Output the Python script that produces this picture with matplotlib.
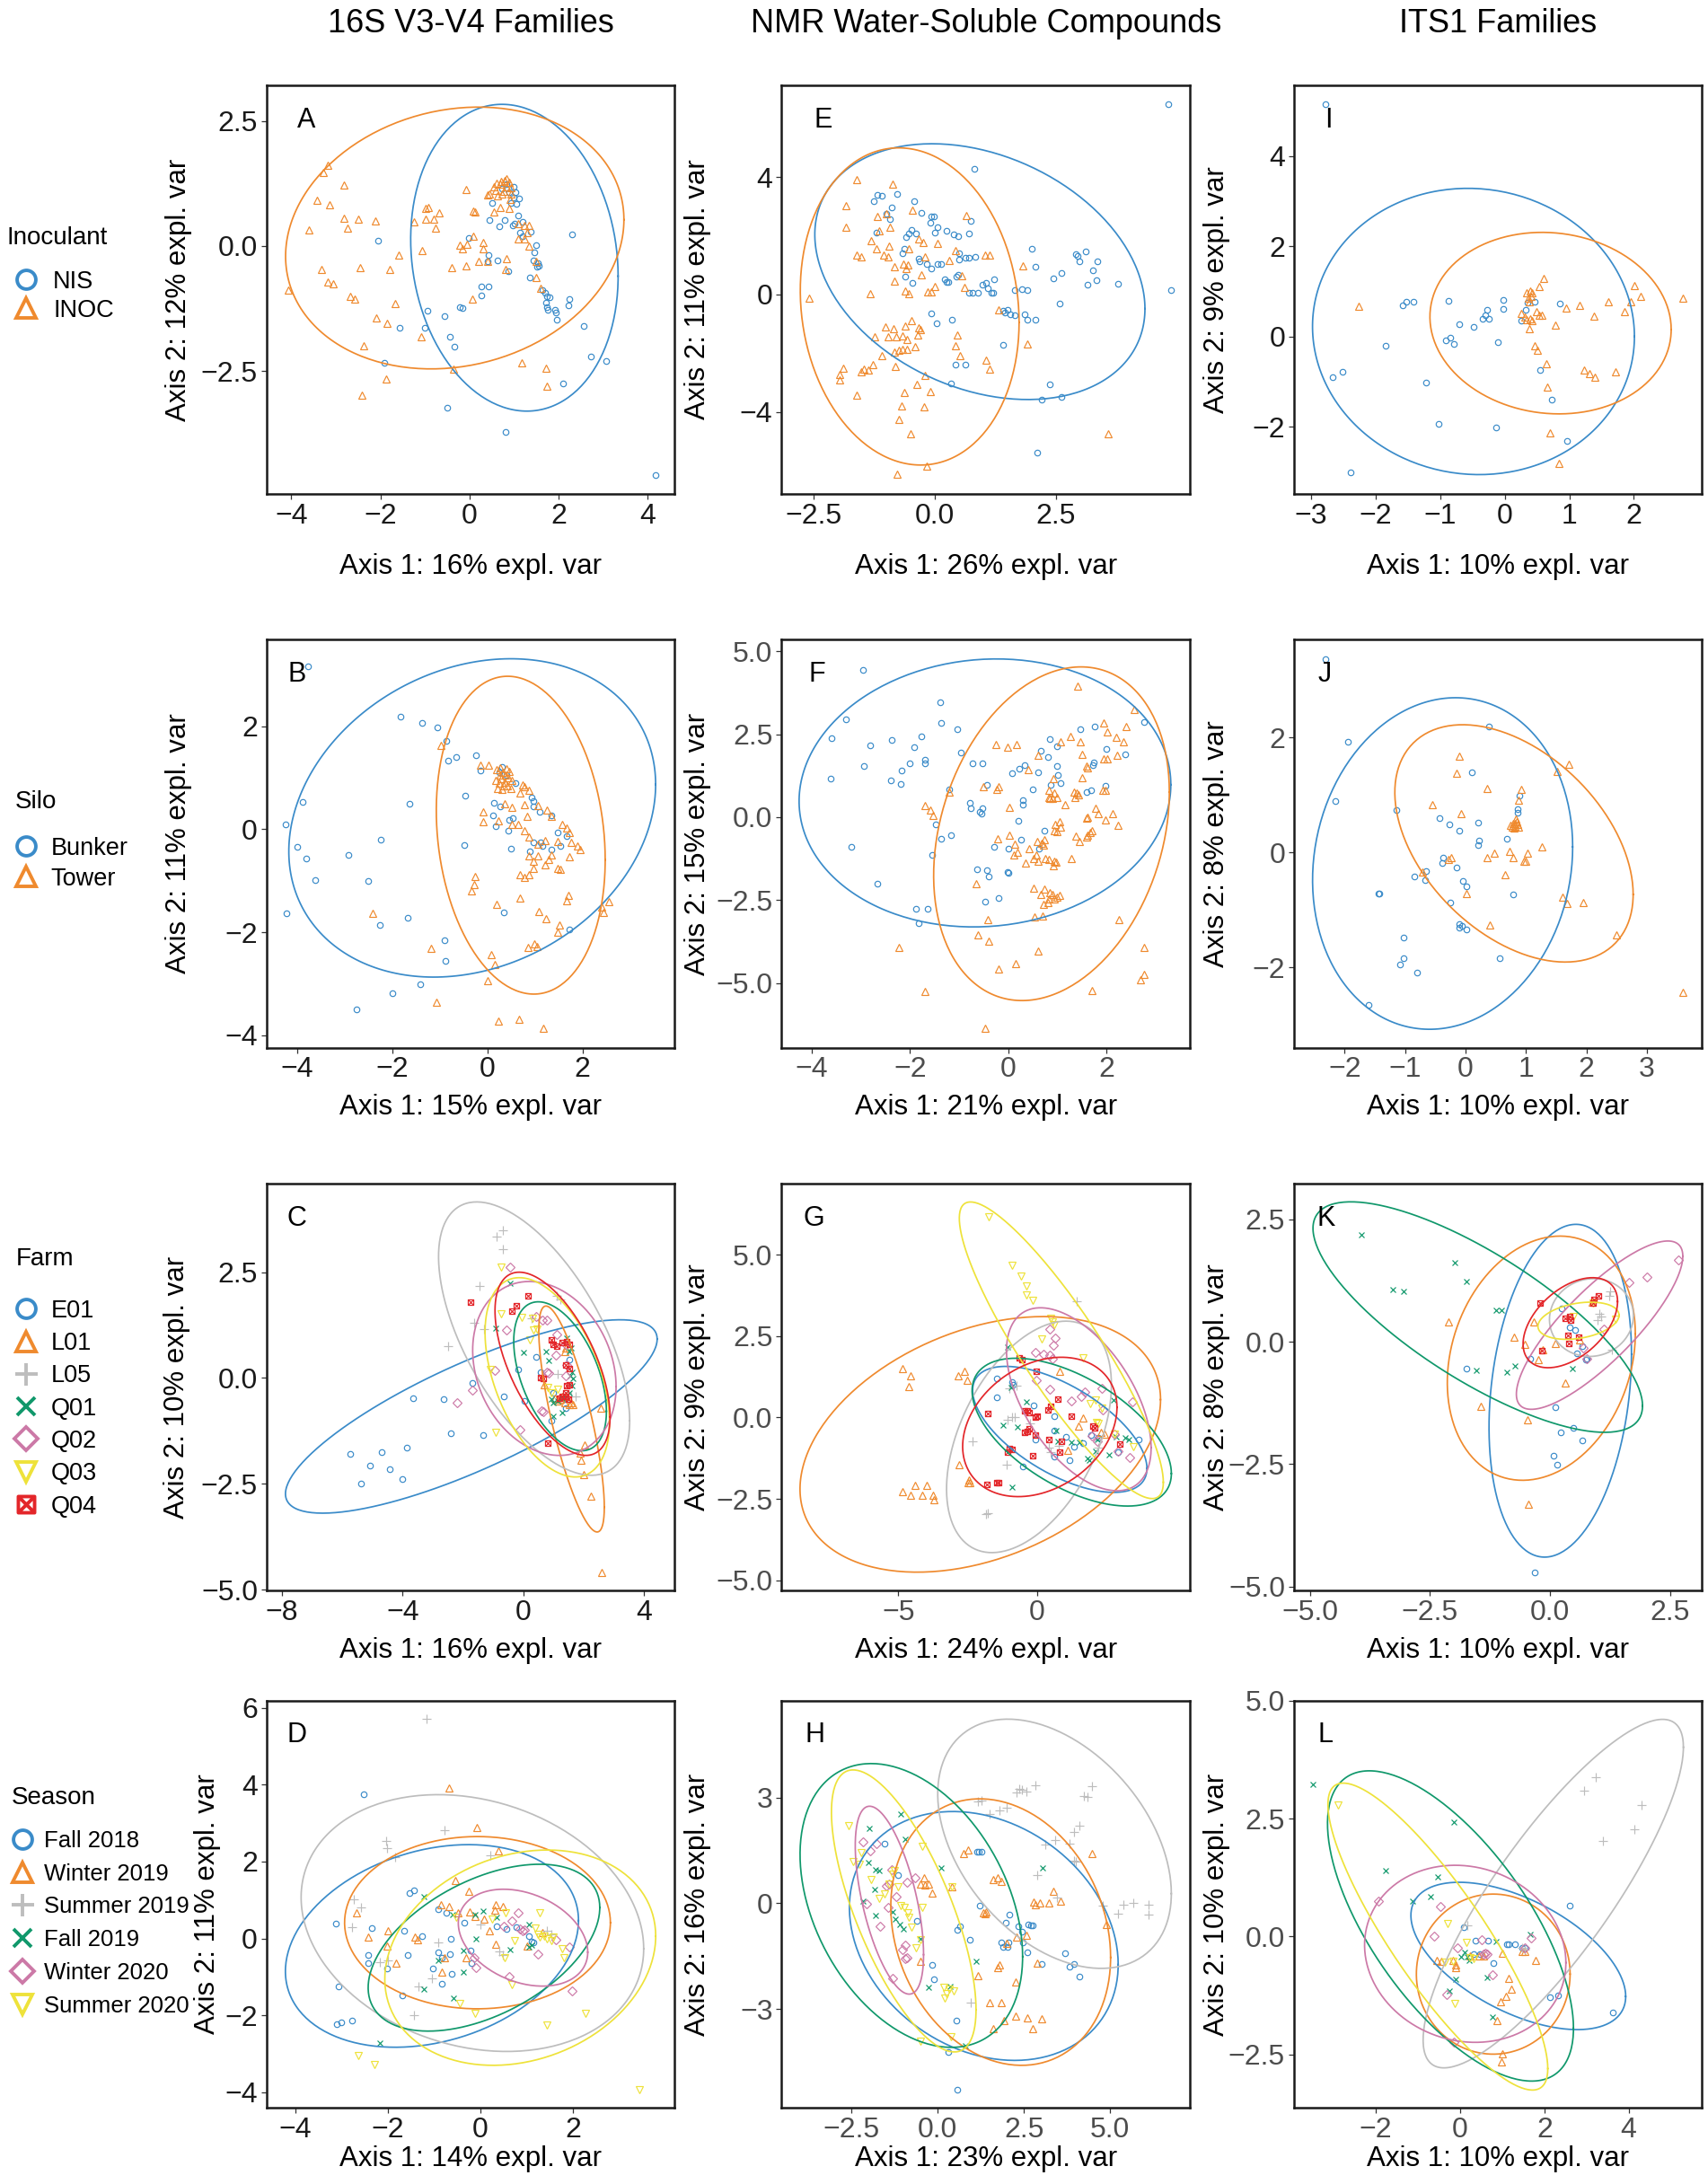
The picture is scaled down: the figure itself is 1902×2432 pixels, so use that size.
import numpy as np
import matplotlib
matplotlib.use('Agg')
import matplotlib.pyplot as plt
from matplotlib.path import Path
from matplotlib.lines import Line2D
from matplotlib.ticker import FuncFormatter, FixedLocator

plt.rcParams['font.family'] = ['Liberation Sans', 'DejaVu Sans']

# ---------------- labels ----------------
COL_TITLES = ['16S V3-V4 Families', 'NMR Water-Soluble Compounds', 'ITS1 Families']
PANEL_LETTERS = ['A', 'E', 'I', 'B', 'F', 'J', 'C', 'G', 'K', 'D', 'H', 'L']
AXIS1_PCT = [16, 26, 10, 15, 21, 10, 16, 24, 10, 14, 23, 10]
AXIS2_PCT = [12, 11, 9, 11, 15, 8, 10, 9, 8, 11, 16, 10]

INOC_GROUPS = ['NIS', 'INOC']
SILO_GROUPS = ['Bunker', 'Tower']
FARM_GROUPS = ['E01', 'L01', 'L05', 'Q01', 'Q02', 'Q03', 'Q04']
SEASON_GROUPS = ['Fall 2018', 'Winter 2019', 'Summer 2019', 'Fall 2019', 'Winter 2020', 'Summer 2020']

# ---------------- row 1 : Inoculant ----------------
A_NIS = [(-2.05,0.11),(-1.56,-1.64),(-1.91,-2.33),(-0.94,-1.29),(-1.01,-1.64),(-0.55,-1.41),(-0.43,-1.81),(-0.33,-2.01),(-0.50,-3.23),(-0.22,-1.22),(-0.15,-1.25),(-0.02,0.16),(0.27,-0.81),(0.42,-0.81),(0.27,-0.99),(0.42,-0.19),(0.40,-0.30),(0.64,-0.28),(0.87,-0.51),(0.45,0.52),(0.67,0.39),(0.79,0.52),(0.50,0.86),(0.94,0.86),(1.06,0.84),(1.12,0.95),(0.97,0.41),(1.02,0.45),(1.09,0.61),(1.19,0.49),(1.14,0.26),(1.37,0.28),(1.19,0.19),(1.49,0.01),(1.46,-0.13),(1.44,-0.28),(1.54,-0.34),(1.56,-0.39),(1.52,-0.41),(1.36,-0.63),(1.64,-0.88),(1.69,-0.93),(1.73,-1.01),(1.81,-1.02),(1.71,-1.13),(1.73,-1.23),(1.76,-1.27),(1.93,-1.27),(1.95,-1.33),(1.97,-1.47),(2.25,-1.07),(2.23,-1.19),(2.31,0.24),(2.56,-1.60),(2.73,-2.22),(3.07,-2.30),(2.11,-2.75),(0.81,-3.73),(4.18,-4.59),(0.84,1.23),(0.99,1.19),(1.04,1.08),(0.99,0.97),(0.89,1.08),(0.74,1.15)]
A_INOC = [(-3.19,1.62),(-3.29,1.48),(-2.82,1.22),(-3.42,0.92),(-3.14,0.83),(-2.82,0.56),(-2.50,0.54),(-2.73,0.35),(-2.12,0.50),(-3.61,0.32),(-1.24,0.49),(-0.99,0.75),(-0.92,0.77),(-0.99,0.54),(-0.81,0.54),(-0.69,0.66),(-0.77,0.35),(-1.59,-0.18),(-1.07,-0.10),(-3.33,-0.47),(-2.45,-0.43),(-1.80,-0.47),(-3.19,-0.72),(-3.06,-0.75),(-2.68,-1.01),(-2.58,-1.06),(-4.08,-0.88),(-1.67,-1.16),(-2.10,-1.44),(-1.85,-1.55),(-1.09,-1.81),(-2.38,-2.00),(-0.35,-2.46),(-1.88,-2.67),(-2.41,-2.99),(-0.07,1.13),(0.12,0.69),(0.09,0.70),(0.55,0.69),(0.08,0.20),(-0.22,0.02),(-0.15,-0.06),(-0.05,0.04),(0.30,0.07),(0.30,-0.05),(-0.40,-0.43),(-0.07,-0.40),(0.20,-0.31),(0.40,-0.31),(0.07,-1.07),(0.81,-0.47),(0.84,-0.26),(0.69,0.78),(0.89,0.75),(0.45,1.04),(0.59,1.12),(0.69,1.23),(0.79,1.31),(0.84,1.19),(0.89,1.27),(0.94,1.16),(0.74,1.04),(0.64,1.00),(0.40,1.02),(0.54,1.19),(0.84,1.34),(0.94,1.04),(0.92,0.93),(0.72,1.30),(0.62,1.25),(0.78,1.10),(1.09,0.45),(1.24,0.41),(1.34,0.41),(1.09,0.15),(1.24,0.15),(1.29,0.26),(1.34,0.00),(1.49,-0.30),(1.49,-0.63),(1.59,-0.84),(1.17,-2.33),(1.71,-2.44),(1.73,-2.81)]
A_ELL = [(1.01,-0.235,2.33,3.07,-0.12), (-0.33,0.16,3.80,2.62,0.14)]

E_NIS = [(4.83,6.48),(4.87,0.15),(0.82,4.28),(-1.19,3.39),(-1.10,3.35),(-1.26,3.17),(-0.78,3.42),(-0.89,2.97),(-1.00,2.76),(-0.92,2.56),(-0.42,3.17),(-0.27,2.79),(-0.07,2.67),(-0.02,2.67),(-0.09,2.45),(0.06,2.29),(0.00,2.10),(0.24,2.16),(0.38,2.03),(0.49,1.97),(0.75,2.50),(0.70,2.08),(-1.20,2.12),(-0.49,2.20),(-0.53,2.07),(-0.60,1.94),(-0.39,2.07),(-0.63,1.56),(-0.67,1.40),(-0.33,1.23),(-0.32,1.14),(-0.16,1.02),(-0.08,0.89),(0.05,1.02),(0.12,1.02),(-0.61,0.61),(-0.47,0.38),(0.21,0.51),(0.24,0.41),(0.27,0.41),(0.45,0.61),(0.49,0.66),(0.50,1.40),(0.70,1.24),(0.63,1.24),(0.84,1.27),(0.50,1.18),(0.70,0.06),(0.78,0.06),(0.89,0.06),(0.99,0.32),(1.05,0.38),(1.09,0.22),(1.16,0.06),(1.21,0.06),(1.23,0.51),(1.65,0.15),(1.79,0.18),(1.91,0.15),(2.00,1.55),(2.07,0.94),(2.45,0.56),(2.61,0.72),(2.91,1.36),(2.94,1.32),(3.12,1.45),(2.99,1.14),(3.35,1.14),(3.26,0.83),(3.33,0.47),(3.15,0.34),(3.79,0.36),(2.58,-0.32),(1.41,-0.55),(1.51,-0.51),(1.45,-0.61),(1.55,-0.67),(1.65,-0.70),(1.86,-0.67),(1.91,-0.86),(2.07,-0.86),(-0.08,-0.66),(0.03,-0.99),(0.36,-0.86),(1.41,-1.71),(0.42,-2.39),(0.63,-2.39),(0.34,-3.02),(2.37,-3.07),(2.21,-3.58),(2.61,-3.49),(2.11,-5.40)]
E_INOC = [(-2.60,-0.13),(-1.62,3.90),(-1.83,3.02),(-1.84,2.29),(-0.88,3.75),(-1.19,2.67),(-1.15,2.16),(-1.31,1.84),(-1.21,1.55),(-0.94,1.65),(-0.92,2.29),(-1.01,2.76),(-0.47,2.88),(-1.62,1.33),(-1.52,1.27),(-1.05,1.33),(-0.96,1.27),(-0.84,0.95),(-0.65,1.02),(-0.56,0.99),(-0.60,0.89),(-0.53,1.55),(-0.25,1.78),(-0.20,1.27),(-0.27,0.66),(-0.33,1.90),(0.06,1.74),(-0.84,0.44),(-1.33,0.03),(-0.61,0.13),(-0.53,0.03),(-0.14,0.09),(-0.07,0.09),(-0.01,0.28),(0.29,1.17),(0.42,1.50),(0.56,0.63),(0.61,0.23),(0.64,2.69),(1.03,1.33),(1.13,1.33),(1.81,0.98),(1.32,-0.53),(-1.03,-1.12),(-0.86,-1.18),(-1.24,-1.43),(-0.96,-1.43),(-0.80,-1.43),(-0.61,-1.08),(-0.49,-0.89),(-0.67,-1.40),(-0.58,-1.52),(-0.33,-1.14),(-0.30,-1.21),(-0.35,-1.37),(-0.40,-1.78),(-0.58,-1.88),(-0.75,-1.90),(-0.66,-1.88),(-0.84,-1.97),(-1.10,-2.07),(-0.82,-2.45),(-1.28,-2.39),(-1.37,-2.57),(-1.46,-2.54),(-1.52,-2.63),(-1.90,-2.51),(-1.96,-2.73),(-1.96,-2.92),(-1.62,-3.43),(0.47,-1.37),(0.43,-1.75),(0.52,-2.07),(1.06,-2.25),(1.13,-2.54),(1.91,-1.69),(-0.20,-2.77),(-0.37,-3.07),(-0.09,-3.30),(-0.63,-3.33),(-0.68,-3.81),(-0.22,-3.83),(-0.74,-4.25),(-0.51,-4.76),(-0.17,-5.84),(-0.78,-6.12),(3.58,-4.74)]
E_ELL = [(0.93,0.775,3.41,4.355,-0.29), (-0.52,-0.41,2.26,5.40,-0.10)]

I_NIS = [(-2.78,5.14),(-2.67,-0.90),(-2.51,-0.78),(-2.39,-3.01),(-1.85,-0.21),(-1.58,0.69),(-1.52,0.78),(-1.41,0.78),(-1.22,-1.02),(-1.02,-1.94),(-0.87,0.79),(-0.92,-0.08),(-0.85,-0.02),(-0.79,-0.16),(-0.71,0.28),(-0.48,0.22),(-0.34,0.39),(-0.30,0.47),(-0.27,0.60),(-0.24,0.39),(-0.11,-0.12),(-0.13,-2.01),(-0.03,0.82),(-0.03,0.62),(0.26,0.36),(0.33,0.59),(0.35,0.75),(0.46,0.78),(0.55,-0.73),(0.73,-1.40),(0.86,0.73),(0.97,-2.30)]
I_INOC = [(-2.26,0.67),(0.60,1.30),(0.54,1.11),(0.34,0.97),(0.39,1.01),(0.42,0.97),(0.37,0.85),(0.41,0.89),(0.38,0.77),(0.49,0.56),(0.54,0.48),(0.57,0.48),(0.26,0.52),(0.31,0.44),(0.34,0.37),(0.39,0.39),(0.42,0.36),(0.38,0.17),(0.46,-0.21),(0.50,-0.31),(0.64,-0.59),(0.66,-1.11),(0.79,0.26),(0.95,0.64),(1.16,0.70),(1.38,0.45),(1.60,0.78),(1.86,0.56),(1.95,0.77),(2.01,1.14),(2.10,0.89),(2.76,0.85),(1.23,-0.73),(1.31,-0.82),(1.39,-0.90),(1.72,-0.78),(0.70,-2.14),(0.84,-2.81)]
I_ELL = [(-0.485,0.115,2.495,3.17,-0.035), (0.71,0.30,1.87,2.01,-0.07)]

# ---------------- row 2 : Silo ----------------
B_BUNKER = [(-3.76,3.16),(-1.83,2.19),(-1.37,2.07),(-1.05,1.97),(-0.86,1.72),(-0.83,1.34),(-0.65,1.40),(-0.23,1.44),(-0.14,1.14),(-0.46,0.65),(-1.64,0.49),(-3.88,0.53),(-4.24,0.10),(-3.99,-0.34),(-3.80,-0.56),(-3.62,-0.98),(-2.92,-0.50),(-2.24,-0.20),(-2.50,-1.00),(-4.21,-1.63),(-2.26,-1.86),(-1.67,-1.72),(-0.90,-2.16),(-0.88,-2.55),(-1.41,-3.00),(-2.00,-3.19),(-2.74,-3.50),(-0.49,-0.31),(0.12,0.27),(0.17,0.06),(0.14,0.51),(0.28,0.45),(0.44,-0.02),(0.46,0.19),(0.53,0.22),(0.49,-0.37),(0.35,-1.62),(0.93,0.62),(0.97,0.54),(0.97,0.45),(1.11,0.33),(1.35,0.27),(0.97,-0.25),(0.90,-0.43),(1.13,-0.26),(1.16,-0.32),(1.35,-0.40),(1.48,-0.07),(1.53,-0.33),(1.67,-0.13),(1.72,-1.94),(0.60,0.90),(0.32,1.21),(0.25,1.10),(0.40,1.05)]
B_TOWER = [(-0.97,1.63),(-0.14,1.25),(0.03,1.25),(0.20,1.15),(0.28,1.20),(0.33,1.10),(0.38,1.05),(0.30,0.98),(0.25,0.90),(0.36,0.92),(0.45,1.00),(0.42,0.85),(0.50,0.80),(0.22,0.80),(0.32,0.78),(0.40,1.18),(0.46,1.12),(0.28,1.05),(0.52,0.95),(0.35,0.85),(0.18,0.95),(0.74,0.86),(0.79,0.83),(0.88,0.76),(0.69,0.70),(0.37,0.50),(0.51,0.43),(0.79,0.48),(1.07,0.46),(1.25,0.37),(1.34,0.25),(-0.09,0.33),(-0.09,0.14),(0.23,0.17),(0.51,0.09),(0.65,0.09),(0.83,0.26),(0.79,-0.03),(0.88,-0.15),(1.07,-0.29),(1.21,-0.22),(1.35,-0.49),(1.48,-0.23),(1.58,0.09),(1.67,0.02),(1.73,-0.06),(1.76,-0.25),(1.90,-0.32),(1.95,-0.40),(0.88,-0.52),(0.97,-0.62),(1.07,-0.52),(0.97,-0.76),(1.21,-0.69),(1.30,-0.59),(1.48,-0.76),(1.53,-0.78),(1.72,-0.54),(0.69,-0.88),(0.79,-0.94),(0.88,-0.88),(-0.25,-0.91),(-0.28,-1.07),(-0.34,-1.20),(0.19,-1.45),(0.68,-1.34),(1.09,-1.59),(1.24,-1.73),(1.51,-1.86),(1.48,-1.99),(1.70,-1.29),(1.67,-1.39),(2.41,-1.51),(2.44,-1.62),(2.55,-1.40),(0.86,-2.30),(0.99,-2.23),(1.05,-2.28),(0.09,-2.44),(0.16,-2.62),(0.00,-2.94),(-1.18,-2.32),(-2.41,-1.64),(-1.07,-3.35),(0.23,-3.72),(0.67,-3.68),(1.18,-3.86)]
B_ELL = [(-0.315,0.22,3.855,3.09,0.21), (0.705,-0.115,1.775,3.085,-0.155)]

F_BUNKER = [(-2.95,4.43),(-3.30,2.96),(-3.59,2.38),(-3.61,1.16),(-2.81,2.16),(-2.94,1.54),(-3.19,-0.89),(-2.67,-2.00),(-2.37,2.32),(-2.40,1.12),(-2.19,1.01),(-2.17,1.40),(-2.01,1.63),(-1.91,2.11),(-1.77,2.43),(-1.69,1.74),(-1.69,1.61),(-1.39,3.47),(-1.36,2.84),(-1.04,2.64),(-0.97,1.95),(-1.20,0.84),(-0.72,1.61),(-0.52,1.61),(-0.79,0.42),(-0.76,0.27),(-0.53,0.26),(-0.59,0.16),(-0.55,0.11),(-0.44,0.98),(-1.48,-0.23),(-1.17,-0.53),(-1.37,-0.65),(-1.55,-1.13),(-0.63,-1.58),(-0.43,-1.60),(-0.39,-1.78),(-0.48,-2.55),(-0.19,-2.44),(-0.02,-1.65),(0.00,-1.68),(-0.28,-0.89),(0.00,-0.94),(-1.88,-2.76),(-1.64,-2.76),(-1.83,-3.21),(0.07,1.32),(0.22,1.45),(0.33,1.56),(0.21,-0.11),(0.26,-0.68),(0.30,0.51),(0.30,0.38),(0.50,0.84),(0.61,1.35),(0.66,2.00),(0.81,1.81),(0.85,2.35),(0.99,1.53),(1.01,1.26),(1.06,1.03),(1.00,2.13),(0.86,0.96),(0.74,-0.40),(0.62,-0.94),(1.46,2.65),(1.76,2.73),(1.74,1.64),(1.72,1.58),(1.59,0.75),(1.69,0.82),(1.98,0.95),(2.00,2.05),(2.39,1.89),(2.76,2.87)]
F_TOWER = [(1.41,3.96),(2.57,3.25),(1.95,2.84),(2.01,2.56),(2.19,2.41),(2.40,2.73),(2.34,2.26),(2.21,1.86),(2.01,1.75),(1.95,1.75),(1.47,2.27),(1.50,1.89),(1.26,2.43),(1.07,2.27),(1.59,1.53),(1.62,1.50),(1.50,1.19),(0.91,1.17),(0.40,1.44),(0.60,1.86),(-0.26,2.19),(-0.01,2.12),(0.17,2.19),(-0.50,0.93),(-0.19,0.93),(-0.24,0.84),(0.02,0.29),(-1.21,0.75),(-1.70,0.35),(-1.59,0.22),(-1.54,0.06),(0.83,0.59),(0.85,0.57),(0.90,0.58),(0.93,0.72),(0.83,0.82),(1.00,0.59),(1.15,0.38),(1.34,0.75),(1.40,0.72),(1.43,0.68),(1.35,0.59),(1.77,0.27),(1.84,0.12),(1.62,0.01),(1.59,-0.04),(1.93,0.82),(1.98,0.82),(1.98,-0.07),(2.12,0.12),(2.24,-0.25),(0.95,-0.21),(1.05,-0.13),(0.99,-0.44),(0.93,-0.40),(1.07,-0.31),(1.37,-0.58),(1.45,-0.73),(1.62,-0.55),(1.66,-0.47),(1.70,-0.42),(1.60,-0.60),(-0.21,-0.65),(0.03,-0.53),(0.14,-0.81),(0.12,-1.15),(0.19,-1.05),(0.43,-0.94),(0.35,-1.37),(0.57,-1.13),(0.52,-1.25),(0.60,-1.32),(0.59,-0.74),(0.68,-0.78),(0.74,-0.67),(0.72,-0.84),(0.76,-1.26),(0.83,-1.28),(0.93,-1.32),(0.97,-1.36),(0.92,-1.47),(1.28,-1.26),(-0.66,-2.00),(0.52,-2.13),(0.67,-2.32),(0.74,-2.18),(0.84,-2.28),(0.90,-2.34),(1.00,-2.41),(0.71,-2.63),(0.81,-2.58),(0.93,-2.47),(1.04,-2.37),(0.83,-2.47),(0.54,-3.02),(0.69,-2.97),(-0.41,-3.09),(-0.61,-3.55),(-0.39,-3.74),(-2.23,-3.92),(0.61,-4.04),(2.26,-3.09),(2.77,-3.92),(2.77,-4.74),(2.69,-4.89),(-0.20,-4.58),(0.15,-4.42),(-1.69,-5.25),(1.71,-5.23),(-0.48,-6.37)]
F_ELL = [(-0.475,0.73,3.785,4.04,0.062), (0.88,-0.50,2.40,5.03,0.25)]

J_BUNKER = [(-2.31,3.36),(-1.94,1.93),(-2.16,0.89),(-1.14,0.73),(-0.43,0.60),(-0.27,0.49),(-0.10,0.38),(0.11,1.39),(0.38,2.19),(0.21,0.51),(0.22,0.21),(0.21,0.12),(0.68,0.24),(0.86,0.75),(0.86,0.69),(0.89,0.99),(-0.37,-0.09),(-0.39,-0.18),(-0.15,-0.27),(-0.85,-0.42),(-0.65,-0.33),(-0.67,-0.48),(-1.44,-0.72),(-1.42,-0.72),(-0.05,-0.50),(0.01,-0.60),(-0.25,-0.88),(-0.10,-1.25),(-0.10,-1.31),(-0.06,-1.28),(0.01,-1.35),(0.79,-0.74),(-1.02,-1.48),(-1.03,-1.84),(-1.08,-1.96),(-0.81,-2.09),(0.57,-1.84),(-1.61,-2.66)]
J_TOWER = [(-0.10,1.67),(-0.15,1.38),(-0.55,0.83),(-0.07,0.67),(0.36,1.11),(0.92,1.10),(0.88,0.90),(0.74,0.47),(0.78,0.50),(0.81,0.45),(0.84,0.53),(0.86,0.48),(0.80,0.42),(0.83,0.58),(0.77,0.44),(0.88,0.44),(0.82,0.50),(1.51,1.40),(1.70,1.53),(1.26,0.09),(0.72,0.02),(0.47,-0.01),(0.35,-0.09),(0.78,-0.09),(1.03,-0.02),(0.97,-0.16),(0.99,-0.16),(-0.24,-0.09),(-0.29,-0.12),(0.65,-0.39),(-0.72,-0.35),(0.01,-0.71),(1.60,-0.78),(1.67,-0.89),(1.95,-0.88),(2.50,-1.43),(0.40,-1.27),(3.59,-2.43)]
J_ELL = [(-0.38,-0.195,2.15,2.885,0.10), (0.80,0.155,1.97,2.065,-0.43)]

# ---------------- row 3 : Farm ----------------
C_E01 = [(-5.73,-1.80),(-5.37,-2.49),(-5.09,-2.06),(-4.69,-1.75),(-4.42,-2.16),(-4.01,-2.39),(-3.87,-1.65),(-3.65,-0.48),(-2.63,-0.50),(-2.40,-1.30),(-1.68,-0.11),(-1.33,-1.34),(-0.64,-0.44),(-0.18,0.20),(0.04,-0.54),(0.41,0.50),(0.57,0.14),(0.99,-0.35),(0.92,-1.00),(1.51,0.44),(1.40,-0.72),(1.36,-0.51)]
C_L01 = [(2.60,-4.60),(2.24,-2.79),(1.99,-2.28),(1.90,-1.95),(1.87,-1.77),(2.02,-1.59),(2.57,-0.72),(0.70,-0.15),(1.36,0.63),(1.40,0.71),(1.04,-0.47),(1.14,-0.55),(1.21,-0.50),(1.36,-0.59),(1.51,-0.63),(1.58,-0.59),(1.43,-0.43),(1.29,-0.43),(1.65,-0.63)]
C_L05 = [(-0.69,3.50),(-0.88,3.34),(-0.67,3.05),(-1.46,2.17),(-1.62,1.31),(-1.30,1.15),(-2.49,0.76),(1.10,1.93),(1.21,1.85),(1.14,0.10),(1.73,-0.43),(1.58,-0.43),(0.26,1.40)]
C_Q01 = [(-0.44,2.23),(-0.91,1.17),(0.00,0.60),(0.75,0.63),(0.85,0.42),(0.92,-0.50),(0.99,-0.59),(1.14,-0.54),(1.29,-0.47),(1.40,-0.43),(1.51,-0.35),(1.61,-0.19),(1.65,-0.02),(1.54,0.06),(1.62,0.14),(0.99,-0.90),(1.29,-0.82),(1.43,0.95),(1.51,0.63),(1.58,0.71)]
C_Q02 = [(-0.44,2.63),(-2.21,-0.58),(-1.68,-0.28),(-0.95,0.18),(-0.57,1.13),(-0.10,-1.23),(0.41,1.45),(0.63,1.37),(0.77,1.37),(0.60,-0.77),(0.66,-0.80),(1.07,0.54),(0.77,0.14),(0.85,0.12),(1.40,0.06),(1.43,0.30),(1.40,0.79),(1.10,1.03)]
C_Q03 = [(-0.73,2.62),(-0.73,1.52),(-0.06,1.44),(0.34,1.13),(0.29,1.40),(0.22,0.89),(0.45,1.15),(-1.10,0.20),(-0.92,-1.28),(0.80,-0.23),(0.92,-0.35),(1.14,-0.27)]
C_Q04 = [(-1.74,1.80),(-0.39,1.58),(-0.22,1.70),(0.16,1.93),(0.80,-1.55),(0.56,0.00),(0.66,-0.02),(0.92,0.89),(0.99,0.79),(1.10,0.75),(1.29,0.83),(1.43,0.85),(1.51,0.80),(1.40,0.30),(1.51,0.22),(1.43,-0.19),(1.40,-0.35),(1.51,-0.15),(1.39,-0.43),(1.48,-0.51),(1.29,-0.43),(1.19,-0.47)]
C_ELL = [(-1.725,-0.91,6.155,2.285,0.80),(1.595,-0.97,1.085,2.67,-0.78),(0.355,0.93,3.165,3.23,-0.60),(1.215,0.04,1.535,1.76,-0.47),(0.695,0.225,2.375,2.055,-0.21),(0.79,0.015,2.06,2.355,-0.45),(0.965,0.335,1.905,2.165,-0.58)]

G_E01 = [(-1.46,1.21),(-1.44,0.62),(-0.91,1.08),(-0.88,1.00),(-0.12,0.37),(-0.06,-0.67),(-0.51,-1.51),(0.61,-1.19),(1.18,-1.30),(0.61,-0.40),(1.04,-0.59),(1.34,-0.91),(1.65,-0.80),(1.95,-0.53),(2.20,-0.61),(2.93,-1.06),(3.66,-0.69),(0.63,0.05)]
G_L01 = [(-4.85,1.50),(-4.57,1.29),(-4.61,0.95),(-2.85,1.27),(-2.62,1.43),(-2.52,1.13),(-2.80,-1.46),(-2.44,-1.91),(-2.50,-1.99),(-2.41,-2.01),(-4.84,-2.28),(-4.55,-2.39),(-4.39,-2.07),(-4.12,-2.39),(-3.96,-2.09),(-3.74,-2.39),(-3.72,-2.52),(0.82,1.43),(1.65,-0.01),(1.50,-0.27),(2.30,-0.45),(2.44,-0.51),(1.10,-1.01)]
G_L05 = [(1.44,3.58),(-2.32,-0.72),(-1.83,-2.97),(-1.77,-2.94),(-1.10,-1.44),(-1.06,-0.08),(-0.79,0.00),(-0.91,0.02),(-0.73,0.99),(-1.00,0.89),(0.43,-0.93),(0.49,-1.07),(0.79,-0.88),(2.20,-0.93),(-0.24,-0.19)]
G_Q01 = [(-1.07,2.16),(-0.94,0.92),(-0.37,0.48),(-1.22,-0.24),(-0.71,-0.30),(-0.91,-2.14),(0.67,-0.40),(0.76,-0.72),(1.22,-0.77),(1.52,-0.77),(1.83,-1.25),(1.89,-1.30),(2.10,-1.04),(2.17,-0.67),(2.60,-1.14),(2.84,-0.59),(3.17,-0.61),(3.29,-0.69),(2.74,0.55)]
G_Q02 = [(0.46,2.71),(0.65,2.45),(0.59,2.22),(-0.06,2.00),(0.22,1.94),(0.46,1.92),(0.55,1.81),(-0.02,1.15),(0.45,0.87),(1.22,0.50),(1.59,0.66),(1.71,0.78),(2.32,0.90),(2.36,0.23),(1.98,-0.56),(2.17,-0.72),(2.80,-0.51),(2.93,-1.04),(3.35,-1.23),(3.44,0.49)]
G_Q03 = [(-1.73,6.15),(-0.91,4.67),(-0.59,4.35),(-0.37,4.03),(-0.37,3.77),(-0.16,3.61),(0.49,3.04),(0.55,2.94),(0.61,2.85),(0.16,2.42),(1.67,1.82),(1.91,0.44),(2.10,0.55),(2.32,0.29),(2.80,-0.51),(3.48,-0.91),(2.13,-0.14),(2.22,-0.17)]
G_Q04 = [(-1.77,0.11),(-1.79,-2.06),(-1.45,-1.99),(-1.37,-1.99),(-1.00,-0.95),(-0.91,-0.98),(-1.06,-1.07),(-0.63,1.82),(-0.55,1.79),(-0.02,1.41),(-0.46,0.21),(-0.34,0.21),(-0.27,0.15),(-0.06,0.02),(0.00,0.04),(-0.45,-0.46),(-0.34,-0.42),(-0.28,-0.35),(-0.06,-0.53),(-0.15,-1.16),(0.40,0.23),(0.49,0.34),(0.76,0.57),(1.22,0.04),(0.43,-0.67),(0.83,-1.06),(0.88,-0.74),(2.01,-0.26),(2.07,-0.32),(2.99,-0.82)]
G_ELL = [(0.82,-0.365,3.14,1.935,-0.62),(-2.045,-0.825,6.495,3.925,0.35),(-0.29,-0.595,2.97,3.555,0.45),(1.25,-0.45,3.59,2.27,-0.56),(1.505,0.56,2.605,2.81,-0.53),(0.875,2.065,3.675,4.555,-0.89),(0.10,-0.29,2.78,2.14,0.28)]

K_E01 = [(-1.74,-0.55),(-0.42,-0.35),(0.24,0.68),(0.42,0.30),(0.52,0.24),(0.56,-0.23),(0.68,-0.09),(0.74,-0.36),(0.76,-0.34),(0.11,-1.33),(0.22,-1.85),(0.49,-1.76),(0.67,-2.02),(0.07,-2.32),(0.15,-2.51),(-0.32,-4.71)]
K_L01 = [(-2.11,0.40),(-0.74,0.10),(-0.52,-0.06),(-0.34,0.41),(-0.25,-0.36),(-0.15,-0.16),(0.12,-0.04),(-1.45,-1.31),(-0.47,-1.60),(0.32,-0.84),(-0.44,-3.31),(0.61,0.04),(0.88,0.81)]
K_L05 = [(1.26,1.03),(1.23,0.93),(1.03,0.58),(0.99,0.44),(1.06,0.51),(1.29,-0.16)]
K_Q01 = [(-3.93,2.19),(-3.27,1.07),(-3.06,1.03),(-1.98,1.61),(-1.74,1.24),(-1.12,0.65),(-1.02,0.65),(-1.54,-0.58),(-0.90,-0.63),(-0.73,-0.49),(0.46,-0.55)]
K_Q02 = [(2.67,1.68),(2.02,1.33),(1.64,1.21),(1.13,0.26),(0.69,-0.13),(0.76,-0.35)]
K_Q03 = [(0.49,0.51),(1.36,0.47),(0.89,0.80)]
K_Q04 = [(-0.21,0.79),(-0.16,-0.18),(0.32,0.48),(0.42,0.51),(0.44,0.44),(0.38,0.13),(0.40,-0.03),(0.59,0.10),(0.92,0.86),(1.01,0.93),(0.89,0.79)]
K_ELL = [(0.215,-1.0,1.485,3.40,0.22),(-0.18,-0.335,1.96,2.495,0.20),(0.865,0.495,0.875,0.795,0.05),(-1.505,0.505,3.435,2.355,-0.77),(1.035,0.34,1.735,1.72,0.82),(0.595,0.43,0.845,0.38,0.30),(0.425,0.39,0.985,0.92,0.47)]

# ---------------- row 4 : Season ----------------
D_F18 = [(-2.53,3.75),(-3.12,0.39),(-2.36,0.26),(-2.43,-0.42),(-2.43,-0.63),(-2.02,-0.77),(-3.08,-1.25),(-3.10,-2.22),(-3.01,-2.19),(-2.77,-2.13),(-1.70,-1.49),(-1.57,-0.42),(-1.65,0.20),(-1.53,1.18),(-1.43,1.24),(-1.27,0.05),(-0.91,0.75),(-0.73,0.67),(-0.91,-0.36),(-0.83,-0.49),(-0.67,-0.40),(-0.65,-0.02),(-1.03,-0.79),(-0.84,-1.17),(-0.62,-0.93),(-0.35,0.41),(-0.21,-0.32),(-0.19,-0.64),(0.35,0.32),(0.57,0.24),(0.78,0.30),(1.05,0.07),(1.10,-0.08),(1.15,-0.10)]
D_W19 = [(-0.69,3.91),(-0.07,2.88),(0.38,2.27),(-0.54,1.50),(-0.26,1.22),(-2.69,0.67),(-2.43,0.03),(-2.00,0.20),(-2.02,-0.19),(-1.83,-0.64),(-1.41,0.04),(-1.37,-0.03),(-0.86,0.88),(-0.69,0.82),(-0.48,0.67),(-0.83,-0.87),(-0.78,-0.49),(-0.31,-0.49),(-0.24,0.69),(-0.11,0.58),(0.08,0.50),(0.19,0.20),(0.31,0.73),(0.33,0.88),(0.48,0.84),(0.33,-0.15),(1.00,-0.19),(1.34,0.15)]
D_S19 = [(-1.17,5.72),(-0.78,2.82),(-2.05,2.54),(-2.02,2.35),(-1.84,2.12),(0.21,2.16),(-2.74,1.01),(-2.58,0.81),(-2.77,0.30),(-2.18,-0.61),(-2.00,-0.57),(-1.35,-1.25),(-1.43,-2.00),(-1.05,-1.04),(-0.91,-0.10),(0.00,0.37),(0.41,-0.33),(0.48,-0.44),(1.43,0.20),(1.53,0.11)]
D_F19 = [(-1.22,1.09),(-0.60,0.61),(-0.12,0.61),(0.05,0.71),(0.35,0.56),(-0.10,-0.02),(-0.38,-0.32),(-0.38,-0.87),(-0.91,-0.57),(-1.22,-1.31),(-0.59,-1.55),(-2.17,-2.73),(0.64,-0.30),(1.05,0.37),(1.05,-0.21),(1.10,-0.17)]
D_W20 = [(-0.14,-0.49),(-0.10,-0.76),(0.51,0.32),(0.67,0.45),(0.81,0.67),(0.86,0.24),(0.91,0.20),(0.95,0.22),(1.24,-0.40),(0.62,-0.98),(1.64,-0.04),(1.93,-0.23),(1.98,-1.36)]
D_S20 = [(-2.65,-3.05),(-2.29,-3.29),(-0.45,-1.70),(-0.12,-1.95),(0.67,-1.19),(1.43,-2.25),(2.27,-1.94),(3.44,-3.94),(0.55,0.67),(1.29,0.67),(0.74,-0.06),(0.52,-0.51),(1.19,0.28),(1.24,0.11),(1.29,0.03),(1.38,0.07),(1.43,-0.02),(1.53,-0.06),(1.57,0.03),(1.76,-0.27),(1.81,-0.49),(-0.52,0.54),(0.26,0.50)]
D_ELL = [(-1.05,-0.195,3.17,2.635,0.25),(-0.065,0.41,2.875,2.24,0.0),(-0.175,0.40,3.705,3.34,-0.20),(0.075,-0.24,2.505,2.17,0.48),(0.92,0.02,1.40,1.26,-0.30),(0.86,-0.50,2.93,2.80,0.20)]

H_F18 = [(-1.55,1.68),(-1.15,0.80),(-0.61,-0.50),(-0.17,-1.74),(-0.10,-2.16),(0.54,-3.32),(0.30,-4.22),(0.57,-5.29),(0.57,-0.76),(0.64,-0.65),(0.93,-1.04),(1.14,1.45),(1.20,1.47),(1.26,1.45),(1.21,-0.07),(1.83,-1.11),(1.89,-1.24),(2.02,-1.24),(2.04,-1.11),(1.96,-0.56),(2.07,-0.33),(2.34,-0.65),(2.43,-0.81),(2.46,-1.12),(2.60,-1.39),(2.63,-0.60),(2.70,-0.63),(2.75,-0.62),(3.02,-1.72),(3.68,-1.43),(3.81,-1.79),(3.94,-1.72),(4.10,-2.08)]
H_W19 = [(0.75,1.40),(0.89,1.52),(-0.39,0.73),(-0.51,0.54),(-0.38,0.52),(-0.26,0.54),(-0.17,0.28),(0.40,0.47),(1.33,-0.28),(1.37,-0.30),(1.40,-0.25),(1.62,0.66),(1.75,0.73),(1.84,0.63),(2.78,0.03),(2.83,-0.04),(2.96,0.00),(3.22,0.00),(3.36,0.33),(3.56,0.07),(4.47,1.40),(4.89,-0.60),(2.29,-0.97),(2.58,-0.90),(1.99,-1.13),(-0.51,-1.65),(1.16,-2.05),(1.80,-1.74),(1.73,-1.83),(2.26,-2.23),(1.50,-2.81),(1.84,-2.83),(1.60,-3.57),(1.91,-3.32),(2.27,-3.21),(2.60,-3.26),(3.00,-3.28),(2.75,-3.55),(2.88,-1.69)]
H_S19 = [(2.29,3.14),(2.37,3.25),(2.44,3.21),(2.56,3.16),(2.83,3.34),(4.47,3.31),(4.23,3.05),(4.35,3.02),(1.16,2.88),(1.26,2.92),(1.50,2.52),(1.80,2.64),(1.99,2.70),(3.12,1.66),(3.41,1.80),(3.81,1.70),(3.96,2.03),(4.10,2.21),(3.95,1.21),(4.00,1.19),(2.88,0.80),(3.46,0.17),(4.79,-0.07),(5.23,-0.30),(5.38,-0.04),(5.67,0.00),(6.11,-0.04),(6.11,-0.32),(0.96,-2.81)]
H_F19 = [(-1.08,2.52),(-1.98,2.12),(-0.95,1.82),(-2.00,1.16),(-1.79,0.94),(-1.71,0.92),(-1.84,0.40),(-2.16,0.07),(-1.81,-0.34),(-1.30,-0.25),(-1.22,-0.44),(-1.10,-0.61),(-1.00,-0.73),(-0.49,-1.01),(0.10,1.00),(1.11,-1.65),(-0.26,-2.39),(0.37,-2.36),(0.79,-4.04),(3.05,0.99)]
H_W20 = [(-2.16,1.73),(-1.95,1.49),(-1.78,1.68),(-2.05,-0.02),(-1.67,-0.65),(-1.44,-0.13),(-1.50,0.50),(-1.40,0.54),(-1.34,0.96),(-1.20,0.19),(-0.90,0.60),(-0.66,0.73),(-0.93,-1.18),(-1.03,-1.32),(-0.90,-1.55),(-0.95,-1.58),(-1.30,-2.13)]
H_S20 = [(-2.59,2.21),(-2.45,1.19),(-2.23,1.44),(-2.26,1.10),(-1.93,0.66),(-1.69,0.14),(-1.54,0.26),(-1.42,0.54),(-1.30,0.82),(-1.25,0.93),(-1.15,0.47),(-1.07,-0.07),(-0.97,-0.11),(-0.87,-0.28),(-0.83,-0.41),(-0.77,-0.69),(-0.46,-0.11),(-0.46,1.61),(-0.64,-1.27),(-0.51,-1.04),(0.18,-2.40),(0.25,-2.56),(0.32,-2.44),(0.47,-2.50),(0.21,-2.70),(0.39,-3.79),(-0.49,-3.91),(0.42,0.47)]
H_ELL = [(1.335,-0.93,3.895,3.53,-0.23),(1.825,-0.82,3.185,3.78,-0.19),(3.385,1.685,3.385,3.535,-0.40),(-0.765,-0.065,3.225,4.025,-0.36),(-1.40,0.085,0.99,2.665,-0.58),(-0.985,-0.22,2.095,4.0,-0.70)]

L_F18 = [(2.60,0.66),(0.09,0.19),(0.36,-0.08),(0.66,-0.08),(1.10,-0.17),(1.16,-0.17),(1.31,-0.17),(1.47,-0.24),(1.54,-0.24),(0.78,-0.56),(2.13,-1.28),(2.33,-1.25),(3.63,-1.61),(0.32,-0.38),(0.47,-0.38)]
L_W19 = [(-0.56,-0.50),(-0.44,-0.52),(-0.18,-0.50),(-0.10,-0.59),(-0.10,-0.65),(0.24,-0.40),(0.44,-0.40),(0.55,-0.40),(1.01,-0.36),(1.47,-0.31),(1.54,-0.31),(1.79,-0.50),(1.16,-0.89),(1.22,-1.11),(1.08,-1.26),(0.95,-1.38),(0.87,-1.77),(1.01,-2.48),(0.99,-2.65)]
L_S19 = [(3.22,3.37),(2.94,3.09),(4.31,2.78),(4.14,2.28),(3.40,2.03),(0.17,0.24),(1.47,-0.24),(1.54,-0.28)]
L_F19 = [(-3.50,3.23),(-1.76,1.40),(-0.53,1.26),(-1.13,0.76),(-0.71,0.85),(-0.16,2.42),(0.86,-0.10),(1.66,0.05),(0.10,-0.33),(0.17,-0.42),(0.21,-0.51),(0.02,-0.42),(-0.10,-0.90),(-0.25,-1.15),(0.64,-0.87),(0.76,-1.70)]
L_W20 = [(-1.95,0.75),(-0.48,0.64),(-0.61,0.00),(-0.06,-0.24),(0.51,-0.07),(0.55,-0.38),(0.59,-0.36),(0.63,-0.38),(0.76,-0.80),(-0.31,-1.22),(-0.16,-2.24),(1.69,-0.03),(1.54,-0.24)]
L_S20 = [(-2.89,2.78),(-0.29,0.28),(0.15,-0.13),(-0.12,-1.42),(-0.37,-0.54),(-0.18,-0.52),(0.23,-0.45),(0.31,-0.47)]
L_ELL = [(1.38,-0.41,2.55,1.56,-0.55),(0.785,-0.795,1.825,1.695,0.0),(2.21,0.91,3.09,3.69,0.84),(-0.23,0.225,2.92,3.285,-0.66),(0.12,-0.365,2.39,1.875,-0.10),(-0.53,0.0,2.61,3.25,-0.86)]

# ---------------- axis ranges / ticks (panel order A,E,I,B,F,J,C,G,K,D,H,L) ----------------
XLIMS = [(-4.56,4.61),(-3.17,5.27),(-3.27,3.05),(-4.64,3.94),(-4.62,3.70),(-2.84,3.90),
         (-8.51,5.01),(-9.21,5.51),(-5.34,3.16),(-4.63,4.20),(-4.53,7.31),(-3.95,5.73)]
YLIMS = [(-4.96,3.21),(-6.79,7.11),(-3.48,5.56),(-4.24,3.68),(-6.95,5.35),(-3.40,3.70),
         (-5.02,4.59),(-5.31,7.18),(-5.08,3.23),(-4.41,6.19),(-5.81,5.75),(-3.63,5.00)]
XTICKS = [[-4,-2,0,2,4],[-2.5,0,2.5],[-3,-2,-1,0,1,2],[-4,-2,0,2],[-4,-2,0,2],[-2,-1,0,1,2,3],
          [-8,-4,0,4],[-5,0],[-5,-2.5,0,2.5],[-4,-2,0,2],[-2.5,0,2.5,5],[-2,0,2,4]]
YTICKS = [[-2.5,0,2.5],[-4,0,4],[-2,0,2,4],[-4,-2,0,2],[-5,-2.5,0,2.5,5],[-2,0,2],
          [-5,-2.5,0,2.5],[-5,-2.5,0,2.5,5],[-5,-2.5,0,2.5],[-4,-2,0,2,4,6],[-3,0,3],[-2.5,0,2.5,5]]
XDEC = [0,1,0,0,0,0,0,0,1,0,1,0]
YDEC = [1,0,0,0,1,0,1,1,1,0,0,1]

# ---------------- styles ----------------
BLUE = '#3A8BC9'; ORANGE = '#EF8A2E'; GREY = '#BDBDBD'; GREEN = '#10986B'
PINK = '#CC79A7'; YELLOW = '#EEE23A'; RED = '#E3262A'
GROUP_COLORS = [BLUE, ORANGE, GREY, GREEN, PINK, YELLOW, RED]
GROUP_MARKERS = ['o', '^', '+', 'x', 'D', 'v', 'boxx']

BOXX = Path([(-1, -1), (1, -1), (1, 1), (-1, 1), (-1, -1), (-1, -1), (1, 1), (-1, 1), (1, -1)],
            [Path.MOVETO, Path.LINETO, Path.LINETO, Path.LINETO, Path.CLOSEPOLY,
             Path.MOVETO, Path.LINETO, Path.MOVETO, Path.LINETO])
MK = {'o': 'o', '^': '^', '+': '+', 'x': 'x', 'D': 'D', 'v': 'v', 'boxx': BOXX}
MS = {'o': 4.6, '^': 6.0, '+': 7.0, 'x': 5.0, 'D': 4.8, 'v': 6.0, 'boxx': 4.4}
LEG_MS = {'o': 15, '^': 16, '+': 18, 'x': 14, 'D': 13, 'v': 16, 'boxx': 13}


def ellipse_xy(cx, cy, hx, hy, r, n=240):
    t = np.linspace(0, 2 * np.pi, n)
    x = cx + hx * np.cos(t)
    y = cy + hy * (r * np.cos(t) + np.sqrt(1 - r * r) * np.sin(t))
    return x, y


def fmt(dec):
    return FuncFormatter(lambda v, p: f'{v:.{dec}f}'.replace('-', '\u2212'))


PANELS = [
    [A_NIS, A_INOC], [E_NIS, E_INOC], [I_NIS, I_INOC],
    [B_BUNKER, B_TOWER], [F_BUNKER, F_TOWER], [J_BUNKER, J_TOWER],
    [C_E01, C_L01, C_L05, C_Q01, C_Q02, C_Q03, C_Q04],
    [G_E01, G_L01, G_L05, G_Q01, G_Q02, G_Q03, G_Q04],
    [K_E01, K_L01, K_L05, K_Q01, K_Q02, K_Q03, K_Q04],
    [D_F18, D_W19, D_S19, D_F19, D_W20, D_S20],
    [H_F18, H_W19, H_S19, H_F19, H_W20, H_S20],
    [L_F18, L_W19, L_S19, L_F19, L_W20, L_S20],
]
ELLS = [A_ELL, E_ELL, I_ELL, B_ELL, F_ELL, J_ELL, C_ELL, G_ELL, K_ELL, D_ELL, H_ELL, L_ELL]

# ---------------- layout ----------------
fig = plt.figure(figsize=(19.02, 24.32), dpi=100)
COL_L = [0.156, 0.4575, 0.7575]
COL_W = [0.239, 0.2392, 0.2387]
ROW_B = [0.7739, 0.5203, 0.2718, 0.0348]
ROW_H = [0.1869, 0.1868, 0.1862, 0.1866]
XLAB_Y = [-0.178, -0.147, -0.148, -0.124]
YLAB_X = [[-0.215, -0.205, -0.19], [-0.215, -0.205, -0.19], [-0.22, -0.205, -0.19], [-0.145, -0.205, -0.19]]
LETTER_X = [[0.097, 0.102, 0.086], [0.075, 0.088, 0.075], [0.075, 0.08, 0.08], [0.075, 0.081, 0.078]]
TICK_COL = [['#1a1a1a', '#1a1a1a', '#1a1a1a'], ['#1a1a1a', '#4D4D4D', '#4D4D4D'],
            ['#1a1a1a', '#4D4D4D', '#4D4D4D'], ['#1a1a1a', '#4D4D4D', '#4D4D4D']]

for i in range(12):
    row, col = divmod(i, 3)
    ax = fig.add_axes([COL_L[col], ROW_B[row], COL_W[col], ROW_H[row]])
    series = PANELS[i]
    for g, pts in enumerate(series):
        xs = [p[0] for p in pts]
        ys = [p[1] for p in pts]
        m = GROUP_MARKERS[g]
        ax.plot(xs, ys, ls='none', marker=MK[m], ms=MS[m], mfc='none',
                mec=GROUP_COLORS[g], mew=0.85, zorder=2 + g * 0.01)
    for g, e in enumerate(ELLS[i]):
        ex, ey = ellipse_xy(*e)
        ax.plot(ex, ey, color=GROUP_COLORS[g], lw=1.25, zorder=3)
    ax.set_xlim(*XLIMS[i])
    ax.set_ylim(*YLIMS[i])
    ax.xaxis.set_major_locator(FixedLocator(XTICKS[i]))
    ax.yaxis.set_major_locator(FixedLocator(YTICKS[i]))
    ax.xaxis.set_major_formatter(fmt(XDEC[i]))
    ax.yaxis.set_major_formatter(fmt(YDEC[i]))
    ax.tick_params(length=4, width=0.9, color='#333333', labelsize=23, pad=3,
                   labelcolor=TICK_COL[row][col])
    for sp in ax.spines.values():
        sp.set_linewidth(1.8)
        sp.set_color('#1a1a1a')
    ax.set_xlabel(f'Axis 1: {AXIS1_PCT[i]}% expl. var', fontsize=22.5, va='center')
    ax.xaxis.set_label_coords(0.5, XLAB_Y[row])
    ax.set_ylabel(f'Axis 2: {AXIS2_PCT[i]}% expl. var', fontsize=22.5, va='center')
    ax.yaxis.set_label_coords(YLAB_X[row][col], 0.5)
    ax.text(LETTER_X[row][col], 0.915, PANEL_LETTERS[i], transform=ax.transAxes,
            fontsize=22, ha='center', va='center')
    if row == 0:
        ax.set_title(COL_TITLES[col], fontsize=26, pad=0, y=1.0)
        ax.title.set_position((0.5, (0.989 - ROW_B[0]) / ROW_H[0]))
        ax.title.set_va('center')

# ---------------- legends ----------------
LEG_TITLES = ['Inoculant', 'Silo', 'Farm', 'Season']
LEG_LABELS = [INOC_GROUPS, SILO_GROUPS, FARM_GROUPS, SEASON_GROUPS]
LEG_TITLE_POS = [(0.0037, 0.891), (0.009, 0.633), (0.0095, 0.4235), (0.0065, 0.177)]
LEG_CENTER = [(0.0079, 0.8645), (0.0079, 0.6045), (0.0079, 0.355), (0.0062, 0.1193)]
LEG_FS = [19.5, 19.5, 19.5, 18.5]
LEG_PAD = [0.625, 0.533, 0.533, 0.45]
LEG_SPACING = [0.22, 0.3, 0.38, 0.5]

for k in range(4):
    handles = []
    for g, lab in enumerate(LEG_LABELS[k]):
        m = GROUP_MARKERS[g]
        handles.append(Line2D([], [], ls='none', marker=MK[m], ms=LEG_MS[m], mfc='none',
                              mec=GROUP_COLORS[g], mew=2.8))
    fig.legend(handles, LEG_LABELS[k], loc='center left', bbox_to_anchor=LEG_CENTER[k],
               bbox_transform=fig.transFigure, frameon=False, borderpad=0, borderaxespad=0,
               handlelength=1.0, handletextpad=LEG_PAD[k], labelspacing=LEG_SPACING[k],
               fontsize=LEG_FS[k])
    fig.text(LEG_TITLE_POS[k][0], LEG_TITLE_POS[k][1], LEG_TITLES[k], fontsize=20,
             ha='left', va='center')

fig.savefig('out.png', dpi=100)
